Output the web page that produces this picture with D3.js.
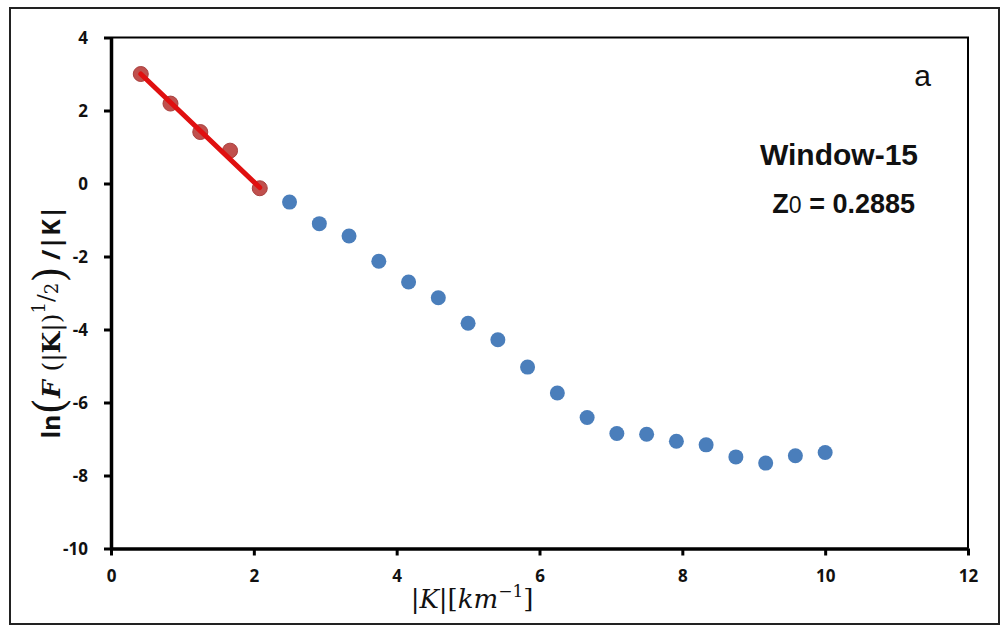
<!DOCTYPE html>
<html>
<head>
<meta charset="utf-8">
<script src="https://cdn.jsdelivr.net/npm/d3@7"></script>
<style>
  html, body { margin: 0; padding: 0; background: #fff; }
  svg { display: block; }
</style>
</head>
<body>
<svg id="chart" width="1000" height="626"></svg>
<script>
// Wavenumber |K| (km^-1) for the low-wavenumber fit segment and the remaining spectrum
const fitK = [0.417, 0.833, 1.25, 1.667, 2.083];
const fitLnF = [3.0, 2.19, 1.41, 0.9, -0.13];
const restK = [2.5, 2.917, 3.333, 3.75, 4.167, 4.583, 5.0, 5.417, 5.833, 6.25,
               6.667, 7.083, 7.5, 7.917, 8.333, 8.75, 9.167, 9.583, 10.0];
const restLnF = [-0.51, -1.10, -1.44, -2.13, -2.70, -3.13, -3.83, -4.28, -5.03, -5.74,
                 -6.41, -6.85, -6.87, -7.06, -7.16, -7.49, -7.66, -7.46, -7.37];
// Regression line endpoints over the fitted segment
const lineK = [0.417, 2.083];
const lineLnF = [3.0, -0.11];
const xTicks = [0, 2, 4, 6, 8, 10, 12];
const yTicks = [4, 2, 0, -2, -4, -6, -8, -10];

const svg = d3.select("#chart");
const plotL = 111, plotR = 968, plotT = 37.5, plotB = 548.5;

const x = d3.scaleLinear().domain([0, 12]).range([plotL, plotR]);
const y = d3.scaleLinear().domain([-10, 4]).range([plotB, plotT]);

// outer frame
svg.append("rect")
  .attr("x", 10).attr("y", 8).attr("width", 989).attr("height", 616)
  .attr("fill", "none").attr("stroke", "#222").attr("stroke-width", 2);

// plot box top/right
svg.append("path")
  .attr("d", `M${plotL},${plotT}H${plotR}V${plotB}`)
  .attr("fill", "none").attr("stroke", "#000").attr("stroke-width", 2);

const tickFont = "'Open Sans', 'DejaVu Sans', sans-serif";

const xAxis = svg.append("g")
  .attr("transform", `translate(0,${plotB})`)
  .call(d3.axisBottom(x).tickValues(xTicks).tickFormat(d => String(d)).tickSize(7).tickSizeOuter(0).tickPadding(14));
const yAxis = svg.append("g")
  .attr("transform", `translate(${plotL},0)`)
  .call(d3.axisLeft(y).tickValues(yTicks).tickFormat(d => String(d)).tickSize(7).tickSizeOuter(0).tickPadding(16));

[xAxis, yAxis].forEach(g => {
  g.select(".domain").attr("stroke", "#000").attr("stroke-width", 3.5);
  g.selectAll(".tick line").attr("stroke", "#000").attr("stroke-width", 3);
  g.selectAll(".tick text")
    .attr("fill", "#111")
    .style("font-family", tickFont)
    .style("font-weight", "700")
    .style("font-size", "17px");
});
yAxis.selectAll(".tick text").attr("dy", "0.35em");

// remaining spectrum points
svg.append("g").selectAll("circle")
  .data(restK.map((k, i) => [k, restLnF[i]]))
  .join("circle")
  .attr("cx", d => x(d[0])).attr("cy", d => y(d[1])).attr("r", 7.5)
  .attr("fill", "#4a7ebb");

// fitted segment points
svg.append("g").selectAll("circle")
  .data(fitK.map((k, i) => [k, fitLnF[i]]))
  .join("circle")
  .attr("cx", d => x(d[0])).attr("cy", d => y(d[1])).attr("r", 7.5)
  .attr("fill", "#c0504d").attr("stroke", "#a8403e").attr("stroke-width", 1);

// regression line
svg.append("path")
  .datum(lineK.map((k, i) => [k, lineLnF[i]]))
  .attr("d", d3.line().x(d => x(d[0])).y(d => y(d[1])))
  .attr("fill", "none").attr("stroke", "#e01010").attr("stroke-width", 5)
  .attr("stroke-linecap", "round");

// annotations
const ann = "'Liberation Sans', Arial, sans-serif";
svg.append("text").attr("x", 931).attr("y", 86).attr("text-anchor", "end")
  .style("font-family", ann).style("font-size", "30px").attr("fill", "#111").text("a");
svg.append("text").attr("x", 918).attr("y", 165).attr("text-anchor", "end")
  .style("font-family", ann).style("font-size", "30px").style("font-weight", "700").attr("fill", "#111")
  .text("Window-15");
const z = svg.append("text").attr("x", 915).attr("y", 213).attr("text-anchor", "end")
  .style("font-family", ann).style("font-size", "27px").style("font-weight", "700").attr("fill", "#111");
z.append("tspan").text("Z");
z.append("tspan").style("font-size", "23px").style("font-weight", "400").text("0");
z.append("tspan").text(" = 0.2885");

// x-axis title
const serif = "'DejaVu Serif', 'Liberation Serif', serif";
const xt = svg.append("text").attr("x", 472).attr("y", 608).attr("text-anchor", "middle")
  .style("font-family", serif).style("font-size", "26px").attr("fill", "#111");
xt.append("tspan").text("|");
xt.append("tspan").style("font-style", "italic").text("K");
xt.append("tspan").text("|[");
xt.append("tspan").style("font-style", "italic").text("km");
xt.append("tspan").attr("dy", -11).style("font-size", "17px").text("−1");
xt.append("tspan").attr("dy", 11).text("]");

// y-axis title
const yt = svg.append("text")
  .attr("transform", "translate(60,322) rotate(-90)")
  .attr("text-anchor", "middle").attr("fill", "#111")
  .style("font-family", serif).style("font-size", "25px");
yt.append("tspan").style("font-family", tickFont).style("font-weight", "700").text("ln");
yt.append("tspan").style("font-size", "42px").attr("dy", 4).text("(");
yt.append("tspan").attr("dy", -4).style("font-style", "italic").style("font-weight", "700").text("F ");
yt.append("tspan").text("(|");
yt.append("tspan").style("font-weight", "700").text("K");
yt.append("tspan").text("|)");
yt.append("tspan").attr("dy", -15).style("font-size", "18px").text("1");
yt.append("tspan").attr("dy", 8).style("font-size", "23px").text("/");
yt.append("tspan").attr("dy", 5).style("font-size", "18px").text("2");
yt.append("tspan").attr("dy", 6).style("font-size", "42px").text(")");
yt.append("tspan").attr("dy", -4).style("font-family", tickFont).style("font-weight", "700").text(" /|K|");
</script>
</body>
</html>
